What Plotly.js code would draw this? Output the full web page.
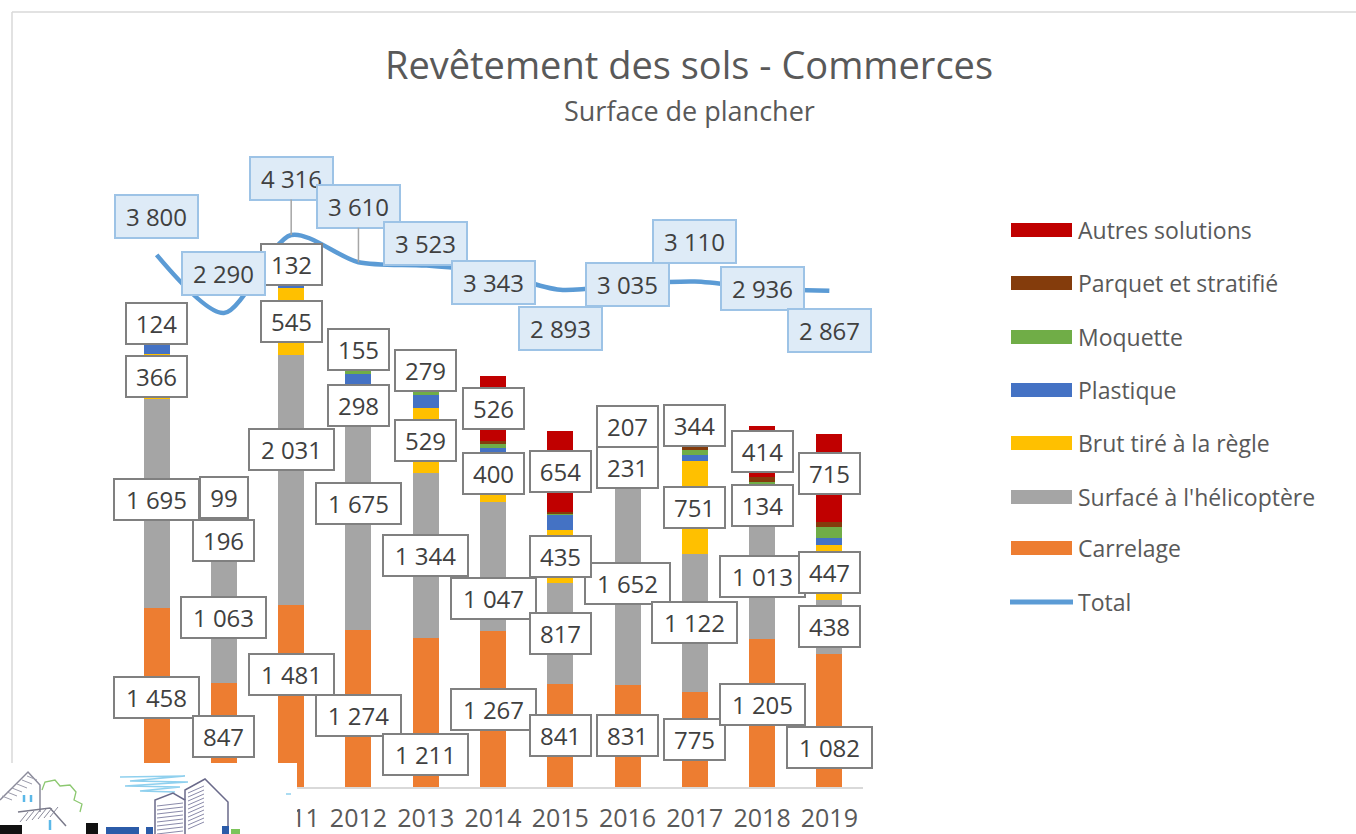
<!DOCTYPE html>
<html><head><meta charset="utf-8">
<script src="https://cdn.plot.ly/plotly-3.0.1.min.js"></script>
<style>html,body{margin:0;padding:0;background:#fff;overflow:hidden}#chart{width:1356px;height:834px;}#dbg{position:fixed;left:400px;top:130px;font:14px monospace;color:#c00;z-index:9}</style>
</head><body><div id="chart"></div><div id="dbg"></div>
<script>
window.onerror = function (m) { document.getElementById('dbg').textContent += ' ERR: ' + m; };
// ---------- DATA ----------
const years = [2009, 2010, 2011, 2012, 2013, 2014, 2015, 2016, 2017, 2018, 2019];
const tickLabels = ['2009', '2010', '2011', '2012', '2013', '2014', '2015', '2016', '2017', '2018', '2019'];
const carrelage = [1458, 847, 1481, 1274, 1211, 1267, 841, 831, 775, 1205, 1082];
const surface   = [1695, 1063, 2031, 1675, 1344, 1047, 817, 1652, 1122, 1013, 438];
const brut      = [366, 196, 545, 298, 529, 400, 435, 231, 751, 134, 447];
const plastique = [130, 50, 50, 110, 100, 40, 115, 60, 50, 70, 60];
const moquette  = [15, 35, 40, 70, 40, 35, 15, 34, 40, 60, 85];
const parquet   = [12, 0, 37, 28, 20, 28, 16, 20, 28, 40, 40];
const autres    = [124, 99, 132, 155, 279, 526, 654, 207, 344, 414, 715];
const total     = [3800, 2290, 4316, 3610, 3523, 3343, 2893, 3035, 3110, 2936, 2867];

// ---------- LAYOUT HELPERS ----------
const FONT = '"Open Sans", Lato, sans-serif';
const W = 1356, H = 834;
const L = 123, R = 863, B = 787, T = 150;
const PXX = px => (px - L) / (R - L);
const PXY = py => (B - py) / (B - T);
const pathOf = (pts, close) => pts.map((p, i) => (i ? 'L' : 'M') + PXX(p[0]).toFixed(5) + ',' + PXY(p[1]).toFixed(5)).join(' ') + (close ? ' Z' : '');
const fmt = v => String(v).replace(/\B(?=(\d{3})+(?!\d))/g, ' ');

const series = [
  {name: 'Carrelage', data: carrelage, color: '#ED7D31', label: true},
  {name: "Surfacé à l'hélicoptère", data: surface, color: '#A5A5A5', label: true},
  {name: 'Brut tiré à la règle', data: brut, color: '#FFC000', label: true},
  {name: 'Plastique', data: plastique, color: '#4472C4'},
  {name: 'Moquette', data: moquette, color: '#70AD47'},
  {name: 'Parquet et stratifié', data: parquet, color: '#843C0C'},
  {name: 'Autres solutions', data: autres, color: '#C00000', label: true}
];

// label nudges (px, up positive) — layout only
const barLabelShift = {
  'Carrelage': [0, -2, 21, -7, -42, 0, 0, 0, 0, 8, -27],
  "Surfacé à l'hélicoptère": [4, 0, 30, 24, 0, -32, 0, 0, 0, 0, 0],
  'Brut tiré à la règle': [0, 0, 0, 0, 0, 4, 0, 0, 0, 0, 0],
  'Autres solutions': [4, 14, 0, 3, 0, 0, 0, 0, 0, 0, 5]
};
const totalLabelShift = [38, 40, 57, 56, 22, -10, -39, 0, 40, 0, -40];
const totalLeader = [false, false, true, true, false, false, false, false, false, false, false];

const traces = series.map(s => ({
  type: 'bar', name: s.name, x: years, y: s.data, yaxis: 'y',
  marker: {color: s.color, line: {width: 0}}, showlegend: false, hoverinfo: 'skip'
}));
traces.push({
  type: 'scatter', mode: 'lines', name: 'Total', x: years, y: total, yaxis: 'y2',
  line: {color: '#5B9BD5', width: 4.5, shape: 'spline', smoothing: 0.8},
  showlegend: false, hoverinfo: 'skip'
});

const annotations = [];
const boxW = txt => txt.length <= 2 ? 44 : (txt.length === 3 ? 57 : 81);

// bar value labels
const cum = years.map(() => 0);
series.forEach(s => {
  s.data.forEach((v, i) => {
    if (s.label) {
      const t = fmt(v);
      annotations.push({
        x: years[i], y: cum[i] + v / 2, xref: 'x', yref: 'y', text: t, showarrow: false,
        yshift: barLabelShift[s.name][i],
        bgcolor: '#ffffff', bordercolor: '#808080', borderwidth: 2, borderpad: 1,
        width: boxW(t), height: 37,
        font: {family: FONT, size: 24, color: '#404040'}
      });
    }
    cum[i] += v;
  });
});

// total labels
total.forEach((v, i) => {
  const t = fmt(v);
  const a = {
    x: years[i], y: v, xref: 'x', yref: 'y2', text: t,
    bgcolor: '#deebf7', bordercolor: '#9dc3e6', borderwidth: 2, borderpad: 1,
    width: 79, height: 39,
    font: {family: FONT, size: 24, color: '#404040'}
  };
  if (totalLeader[i]) {
    Object.assign(a, {showarrow: true, arrowhead: 0, arrowwidth: 1.5, arrowcolor: '#a6a6a6',
      ax: 0, ay: -totalLabelShift[i], axref: 'pixel', ayref: 'pixel'});
  } else {
    Object.assign(a, {showarrow: false, yshift: totalLabelShift[i]});
  }
  annotations.push(a);
});

// subtitle
annotations.push({xref: 'paper', yref: 'paper', x: PXX(689), y: PXY(110), text: 'Surface de plancher',
  showarrow: false, xanchor: 'center', yanchor: 'middle',
  font: {family: FONT, size: 27, color: '#595959'}});

// manual legend
const shapes = [];
const legendRows = [
  {name: 'Autres solutions', color: '#C00000', y: 230},
  {name: 'Parquet et stratifié', color: '#843C0C', y: 283},
  {name: 'Moquette', color: '#70AD47', y: 337},
  {name: 'Plastique', color: '#4472C4', y: 390},
  {name: 'Brut tiré à la règle', color: '#FFC000', y: 443},
  {name: "Surfacé à l'hélicoptère", color: '#A5A5A5', y: 497},
  {name: 'Carrelage', color: '#ED7D31', y: 548},
  {name: 'Total', color: '#5B9BD5', y: 602, line: true}
];
legendRows.forEach(r => {
  if (r.line) {
    shapes.push({type: 'line', xref: 'paper', yref: 'paper', x0: PXX(1010), x1: PXX(1073), y0: PXY(r.y), y1: PXY(r.y),
      line: {color: r.color, width: 5}});
  } else {
    shapes.push({type: 'rect', xref: 'paper', yref: 'paper', x0: PXX(1011), x1: PXX(1072), y0: PXY(r.y - 7), y1: PXY(r.y + 7),
      fillcolor: r.color, line: {width: 0}});
  }
  annotations.push({xref: 'paper', yref: 'paper', x: PXX(1076), y: PXY(r.y), text: r.name, showarrow: false,
    xanchor: 'left', yanchor: 'middle', font: {family: FONT, size: 23, color: '#595959'}});
});

// outer frame (top and left edges)
shapes.push({type: 'line', xref: 'paper', yref: 'paper', x0: PXX(12), x1: PXX(1356), y0: PXY(12), y1: PXY(12), line: {color: '#d9d9d9', width: 1.5}});
shapes.push({type: 'line', xref: 'paper', yref: 'paper', x0: PXX(12), x1: PXX(12), y0: PXY(12), y1: PXY(834), line: {color: '#d9d9d9', width: 1.5}});

// logo block (bottom-left)
const logo = [];
logo.push({type: 'rect', xref: 'paper', yref: 'paper', x0: PXX(0), x1: PXX(297), y0: PXY(763), y1: PXY(834),
  fillcolor: '#ffffff', line: {width: 0}, layer: 'above'});
const lp = (pts, color, w, close, fill) => logo.push({type: 'path', xref: 'paper', yref: 'paper', path: pathOf(pts, close),
  line: {color: color, width: w}, fillcolor: fill || 'rgba(0,0,0,0)', layer: 'above'});
lp([[0, 800], [28, 772], [40, 785], [40, 812]], '#8a8a9a', 1.5);
for (let k = 0; k < 6; k++) lp([[2 + k * 5, 796 - k * 4], [12 + k * 5, 800 - k * 4]], '#9a9aaa', 1);
lp([[18, 812], [50, 808], [66, 826]], '#7a7a8a', 1.5);
for (let k = 0; k < 6; k++) lp([[20 + k * 6, 822 - k], [28 + k * 6, 812 - k]], '#8a8a9a', 1);
lp([[24, 795], [24, 802]], '#5bb8e8', 2.5); lp([[31, 795], [31, 802]], '#5bb8e8', 2.5);
lp([[50, 820], [50, 830]], '#5bb8e8', 2.5);
lp([[42, 790], [45, 782], [55, 780], [60, 786], [70, 785], [76, 792], [74, 800], [82, 804], [80, 812]], '#8cc870', 1.3);
lp([[120, 777], [185, 776], [130, 781], [188, 782], [125, 786], [180, 787], [140, 791], [175, 792]], '#8fd0ee', 1.5);
lp([[286, 794], [291, 794]], '#8fd0ee', 1.5);
lp([[155, 834], [155, 800], [173, 793], [185, 800], [185, 834]], '#6a6a8a', 1.5);
lp([[185, 800], [185, 790], [205, 779], [228, 802], [228, 834]], '#6a6a8a', 1.5);
for (let k = 0; k < 8; k++) lp([[157, 806 + k * 4], [183, 803 + k * 4]], '#8a8aaa', 1);
for (let k = 0; k < 10; k++) lp([[188, 793 + k * 4], [204, 786 + k * 4]], '#8a8aaa', 1);
const lr = (x0, x1, y0, y1, c) => logo.push({type: 'rect', xref: 'paper', yref: 'paper', x0: PXX(x0), x1: PXX(x1), y0: PXY(y0), y1: PXY(y1), fillcolor: c, line: {width: 0}, layer: 'above'});
lr(0, 22, 825, 834, '#111111'); lr(86, 98, 823, 834, '#111111');
lr(106, 139, 827, 834, '#2b5ba8'); lr(146, 153, 827, 834, '#2b5ba8');
lr(222, 229, 826, 834, '#2b5ba8'); lr(231, 240, 829, 834, '#7cc45a');

const y1max = (B - T) / 0.123;
const y2slope = 0.0385, y2zero = 401.2;
const layout = {
  width: W, height: H,
  margin: {l: L, r: W - R, t: T, b: H - B, pad: 0},
  paper_bgcolor: '#ffffff', plot_bgcolor: '#ffffff',
  barmode: 'stack', bargap: 0.613,
  showlegend: false,
  title: {text: 'Revêtement des sols - Commerces', xref: 'container', yref: 'container',
    x: 689 / W, y: 1 - 66 / H, xanchor: 'center', yanchor: 'middle',
    font: {family: FONT, size: 38, color: '#595959'}},
  xaxis: {type: 'linear', range: [2008.5, 2019.5], showgrid: false, zeroline: false,
    tickmode: 'array', tickvals: years, ticktext: tickLabels,
    showline: true, linecolor: '#d9d9d9', linewidth: 1.5, ticks: '', ticklabelstandoff: 8,
    tickfont: {family: FONT, size: 25, color: '#595959'}, fixedrange: true},
  yaxis: {range: [0, y1max], visible: false, showgrid: false, zeroline: false, fixedrange: true},
  yaxis2: {overlaying: 'y', side: 'right', visible: false, showgrid: false, zeroline: false,
    range: [-(B - y2zero) / y2slope, (y2zero - T) / y2slope], fixedrange: true},
  annotations: annotations,
  shapes: shapes.concat(logo)
};

Plotly.newPlot('chart', traces, layout, {displayModeBar: false, staticPlot: true}).then(gd => {
  const n = document.querySelectorAll('.annotation').length;
  if (n < annotations.length) document.getElementById('dbg').textContent += ' annotations drawn ' + n + '/' + annotations.length;
}).catch(e => { document.getElementById('dbg').textContent += ' CATCH ' + e; });
</script>
</body></html>
